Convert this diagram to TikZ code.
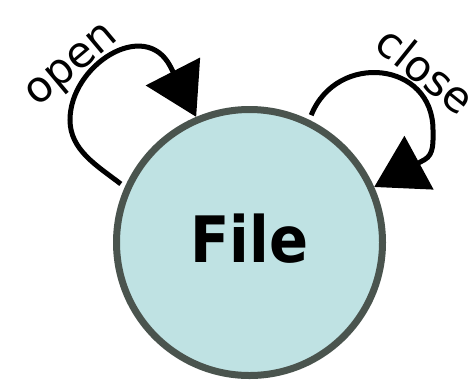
\documentclass[tikz,border=0pt]{standalone}
\usepackage{fontspec}
\setmainfont{DejaVu Sans}
\newfontfamily\condsans{DejaVu Sans Condensed}
\usetikzlibrary{arrows.meta}
\definecolor{filefill}{RGB}{191,226,227}
\definecolor{fileedge}{RGB}{74,84,78}
\begin{document}
\begin{tikzpicture}[x=1pt,y=-1pt]
    \tikzset{state/.style = {shape = circle,minimum size = 266pt,line width = 7pt,draw = fileedge,fill = filefill,inner sep = 0pt,text height = 40.4pt,text depth = 0pt,font = \condsans\bfseries\fontsize{64}{64}\selectfont}, edge/.style = {line width = 5pt,shorten <= 5pt,-{Triangle[length=51pt,width=60pt]}}, lbl/.style = {font = \fontsize{43}{43}\selectfont,anchor = base,inner sep = 0pt}}
    \useasboundingbox (0,0) rectangle (470,381);
     \node[state] (file) at (249.5,242.5) {File};

     \node[lbl,rotate=40] (open) at (78.4,73.2) {open};
     \node[lbl,rotate=-38.7] (close) at (416,82.4) {close};

     \draw[edge](file.156) .. controls (97,165.7) and (70,150) .. (70,120) .. controls (70,65) and (145.1,17.6) .. (170.3,66.4) -- (file.113);
     \draw[edge](file.64) .. controls (336.7,51.4) and (433,61.3) .. (433,130) .. controls (433,141.1) and (434.3,154.4) .. (424.5,159.7) -- (file.24);
\end{tikzpicture}
\end{document}
